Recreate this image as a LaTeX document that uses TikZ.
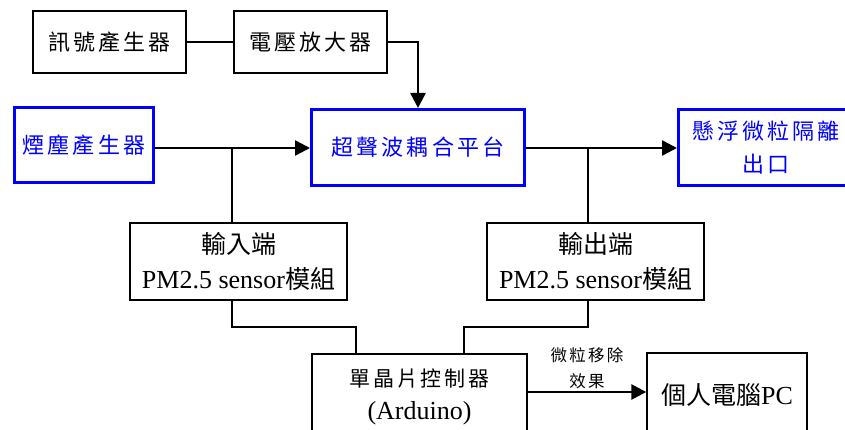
\documentclass[tikz,border=0pt]{standalone}
\usepackage{fontspec}
\setmainfont{Liberation Serif}
\newfontfamily\cjk{Noto Sans CJK TC}
\newfontfamily\cjksp[LetterSpace=14]{Noto Sans CJK TC}
\usetikzlibrary{arrows.meta}
\begin{document}
\begin{tikzpicture}[x=1pt,y=-1pt,
  blk/.style={draw=black, line width=1.4pt, inner sep=0pt, align=center},
  blu/.style={draw=blue, line width=3pt, text=blue, inner sep=0pt, align=center},
  conn/.style={line width=1.4pt},
  arr/.style={line width=2.6pt, -{Triangle[length=15pt,width=15pt]}},
  bigsp/.style={font=\cjksp\fontsize{22}{33}\selectfont},
  sens/.style={font=\fontsize{26}{35}\selectfont}]
\useasboundingbox (0,0) rectangle (845,430);
% top row
\node[blk,bigsp,minimum width=153pt,minimum height=62pt] (sig) at (109.5,42) {訊號產生器};
\node[blk,bigsp,minimum width=153pt,minimum height=62pt] (amp) at (310.5,42) {電壓放大器};
% blue row
\node[blu,bigsp,minimum width=139pt,minimum height=75pt] (smoke) at (84,145) {煙塵產生器};
\node[blu,bigsp,minimum width=213pt,minimum height=76pt] (ultra) at (418,147.5) {超聲波耦合平台};
\node[blu,bigsp,minimum width=175pt,minimum height=76pt] (exit) at (766,147.5) {懸浮微粒隔離\\出口};
% sensors
\node[blk,sens,minimum width=217pt,minimum height=77pt] (inS) at (238.5,261.5)
  {{\cjk\fontsize{25}{35}\selectfont 輸入端}\\PM2.5 sensor{\cjk\fontsize{25}{35}\selectfont 模組}};
\node[blk,sens,minimum width=217pt,minimum height=77pt] (outS) at (595.5,261.5)
  {{\cjk\fontsize{25}{35}\selectfont 輸出端}\\PM2.5 sensor{\cjk\fontsize{25}{35}\selectfont 模組}};
% bottom
\node[blk,font=\fontsize{26}{33}\selectfont,minimum width=215pt,minimum height=86pt] (ctrl) at (419.5,397)
  {{\cjksp\fontsize{21}{33}\selectfont 單晶片控制器}\\(Arduino)};
\node[blk,font=\fontsize{26}{33}\selectfont,minimum width=160pt,minimum height=84pt] (pc) at (727,395)
  {{\cjk\fontsize{25}{33}\selectfont 個人電腦}PC};
% connectors
\coordinate (j1) at (232,148);
\coordinate (j2) at (588,148);
\draw[line width=2.6pt] (sig.east) -- (amp.west);
\draw[arr] (amp.east) -| (ultra.north);
\draw[arr] (smoke.east |- j1) -- (ultra.west |- j1);
\draw[arr] (ultra.east |- j2) -- (exit.west |- j2);
\draw[conn] (j1) -- (j1 |- inS.north);
\draw[conn] (j2) -- (j2 |- outS.north);
\coordinate (m1) at (356,327);
\coordinate (m2) at (464,327);
\draw[conn] (j1 |- inS.south) |- (m1) -- (m1 |- ctrl.north);
\draw[conn] (j2 |- outS.south) |- (m2) -- (m2 |- ctrl.north);
\coordinate (a1) at (ctrl.east |- 0,392);
\draw[arr] (a1) -- (a1 -| pc.west)
  node[midway,above=-2pt,font=\cjksp\fontsize{16.5}{27}\selectfont,align=center] {微粒移除\\效果};
\end{tikzpicture}
\end{document}
